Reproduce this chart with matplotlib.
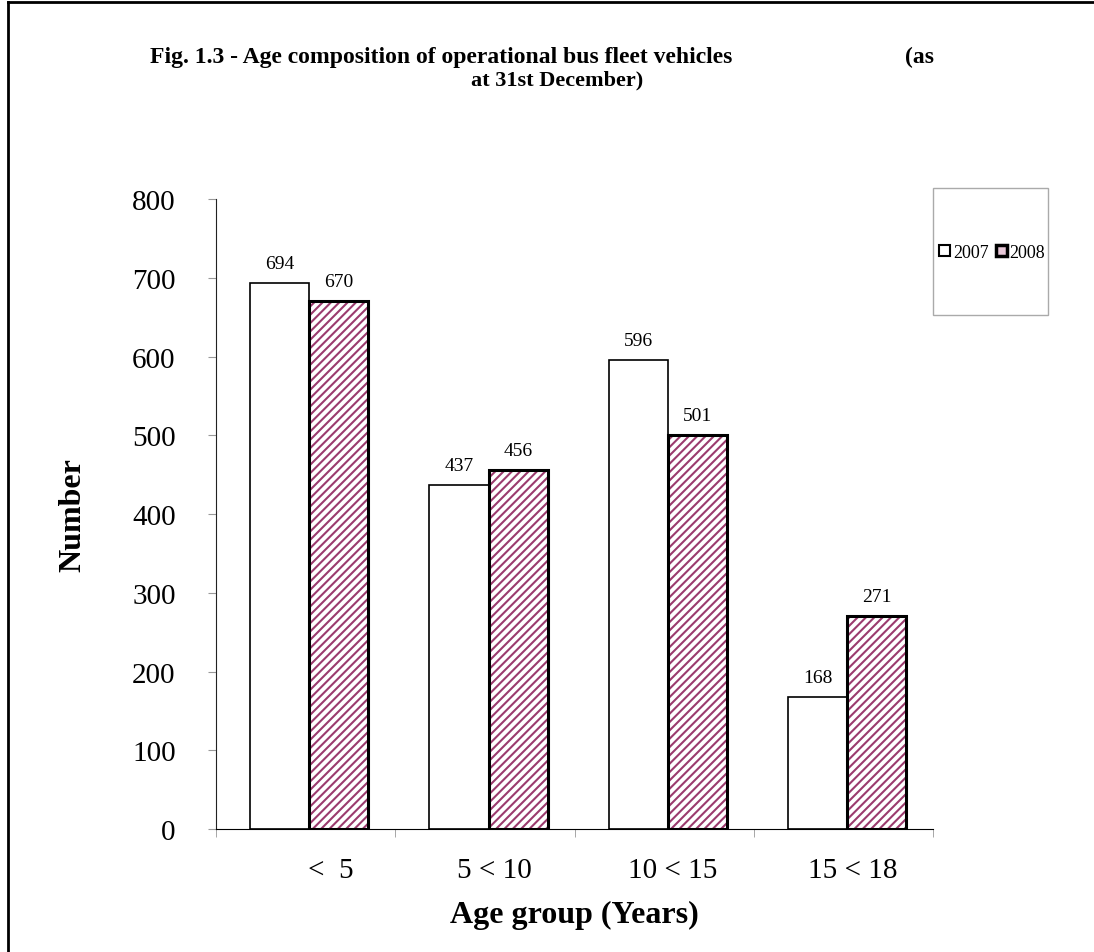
import numpy as np
import matplotlib.pyplot as plt
from matplotlib.lines import Line2D
from matplotlib.patches import Patch

age_groups = ['<  5', '5 < 10', '10 < 15', '15 < 18']
fleet_2007 = [694, 437, 596, 168]
fleet_2008 = [670, 456, 501, 271]
y_ticks = [0, 100, 200, 300, 400, 500, 600, 700, 800]

plt.rcParams['font.family'] = ['Liberation Serif', 'DejaVu Serif']
plt.rcParams['hatch.linewidth'] = 1.5

hatch_col = '#9b3b6e'

fig = plt.figure(figsize=(10.94, 9.53), dpi=100)
ax = fig.add_axes([0.1974, 0.129, 0.6556, 0.661])

x = np.arange(len(age_groups))
w = 0.33
off = 0.02
ax.bar(x + off - w / 2, fleet_2007, w, color='white', edgecolor='black',
       linewidth=1.2)
# hatched layer then black outline on top
ax.bar(x + off + w / 2, fleet_2008, w, color='white', edgecolor=hatch_col,
       linewidth=0, hatch='////')
ax.bar(x + off + w / 2, fleet_2008, w, fill=False, edgecolor='black',
       linewidth=2.2)

for i in range(len(age_groups)):
    ax.text(x[i] + off - w / 2, fleet_2007[i] + 14, str(fleet_2007[i]),
            ha='center', va='bottom', fontsize=14)
    ax.text(x[i] + off + w / 2, fleet_2008[i] + 14, str(fleet_2008[i]),
            ha='center', va='bottom', fontsize=14)

ax.set_xlim(-0.5, len(age_groups) - 0.5)
ax.set_ylim(0, 800)
ax.set_yticks(y_ticks)
ax.set_yticklabels([str(v) for v in y_ticks], fontsize=21)
ax.tick_params(axis='y', length=6, color='#999999', pad=23)

# category labels, tick marks on boundaries
ax.set_xticks([0.14, 1.05, 2.05, 3.05])
ax.set_xticklabels(age_groups, fontsize=21)
ax.tick_params(axis='x', length=0, pad=20)
ax.set_xticks(np.arange(len(age_groups) + 1) - 0.5, minor=True)
ax.tick_params(axis='x', which='minor', length=6, color='#999999')

for s in ['top', 'right']:
    ax.spines[s].set_visible(False)
ax.spines['left'].set_color('#222222')
ax.spines['bottom'].set_color('black')

ax.set_ylabel('Number', fontsize=23, fontweight='bold', labelpad=32)
ax.set_xlabel('Age group (Years)', fontsize=23, fontweight='bold', labelpad=12)

# legend in a grey box
handles = [Patch(facecolor='white', edgecolor='black', linewidth=1.5),
           Patch(facecolor='#e8c8d8', edgecolor='black', linewidth=2.5)]
leg = fig.legend(handles, ['2007', '2008'], ncol=2, fontsize=13,
                 loc='center', bbox_to_anchor=(0.907, 0.734),
                 frameon=False, handlelength=0.6, handleheight=0.6,
                 handletextpad=0.15, columnspacing=0.4)
box = plt.Rectangle((933 / 1094, 1 - 316 / 953), 115 / 1094, 127 / 953,
                    transform=fig.transFigure, fill=False,
                    edgecolor='#aaaaaa', linewidth=1)
fig.add_artist(box)

# title
fig.text(150 / 1094, 1 - 57 / 953,
         'Fig. 1.3 - Age composition of operational bus fleet vehicles',
         fontsize=17, fontweight='bold', ha='left', va='center')
fig.text(905 / 1094, 1 - 57 / 953, '(as', fontsize=17, fontweight='bold',
         ha='left', va='center')
fig.text(557 / 1094, 1 - 80 / 953, 'at 31st December)', fontsize=16,
         fontweight='bold', ha='center', va='center')

# page border (top and left)
fig.add_artist(Line2D([8 / 1094, 8 / 1094], [0, 1 - 3 / 953],
                      transform=fig.transFigure, color='black', linewidth=2))
fig.add_artist(Line2D([8 / 1094, 1], [1 - 3 / 953, 1 - 3 / 953],
                      transform=fig.transFigure, color='black', linewidth=2))

fig.savefig('out.png', dpi=100)
